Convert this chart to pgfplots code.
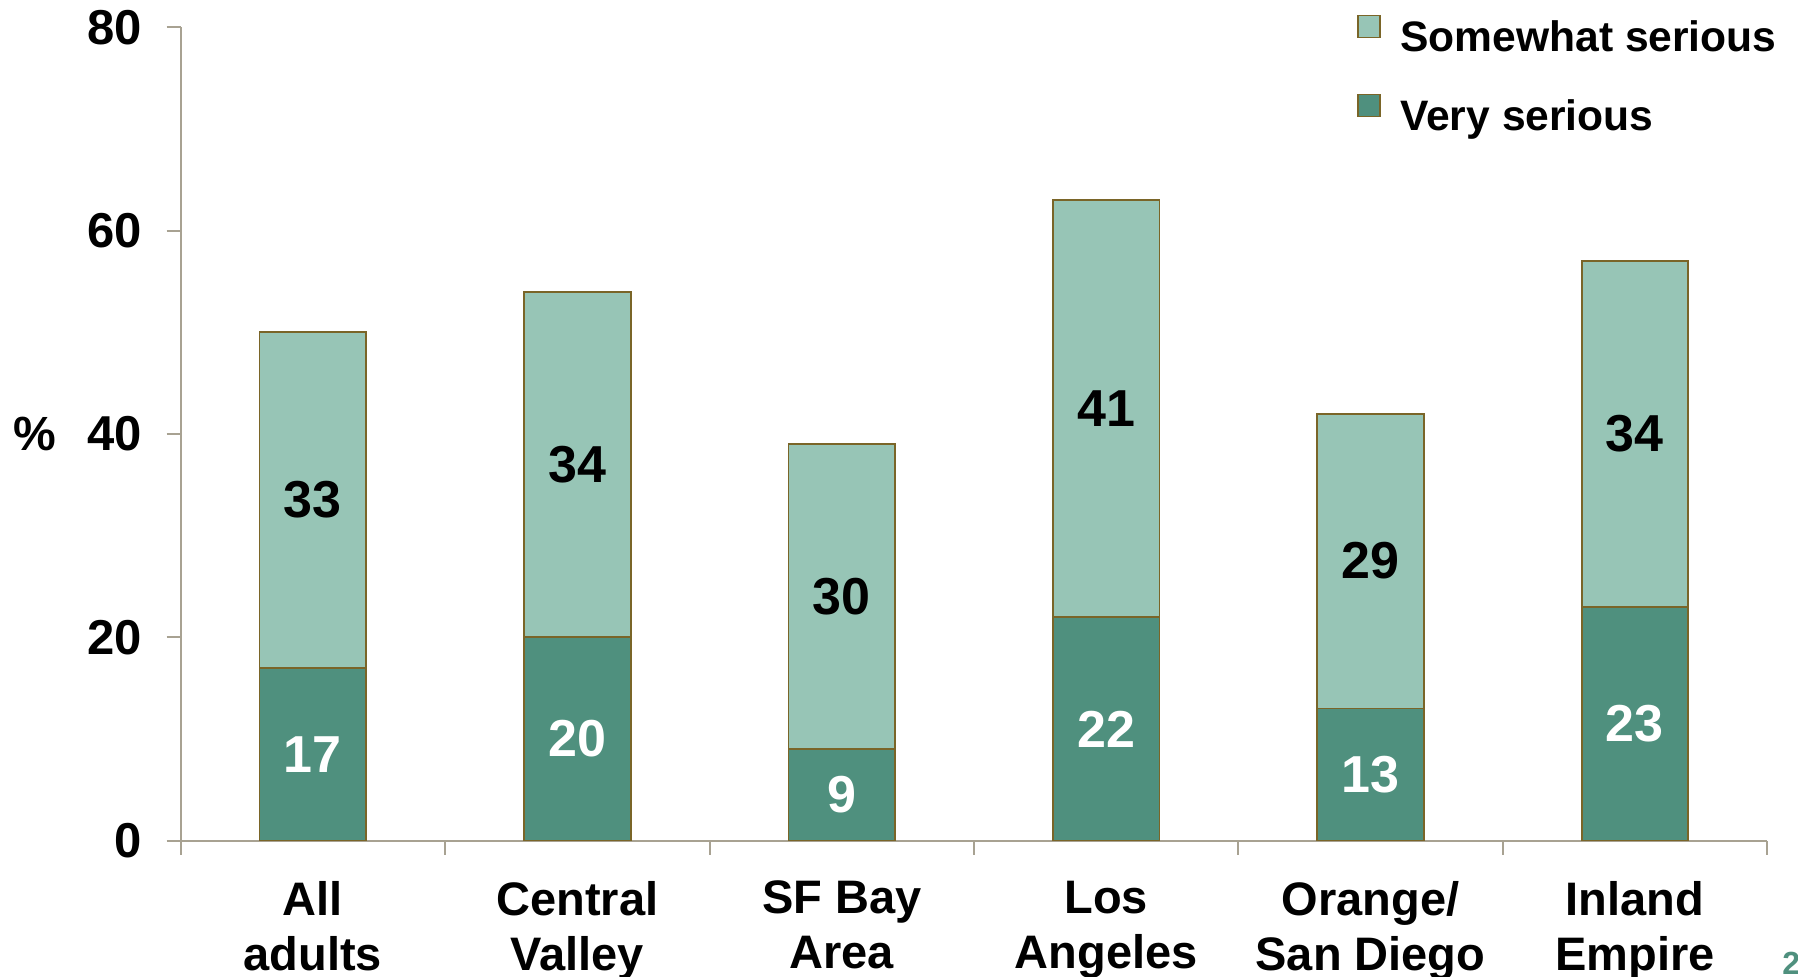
\documentclass[border=0pt]{standalone}
\usepackage{fontspec}
\setmainfont{Liberation Sans}
\usepackage{pgfplots}
\pgfplotsset{compat=1.18}
\definecolor{lightg}{HTML}{97C5B6}
\definecolor{darkg}{HTML}{4F907E}
\definecolor{edgec}{HTML}{7A6528}
\definecolor{axc}{HTML}{A8A292}
\pgfplotsset{
  mylegend/.style={legend image code/.code={\draw[##1,line width=0.9pt] (0pt,2pt) rectangle (11pt,13pt);}},
  common/.style={at={(0pt,0pt)}, anchor=south west, scale only axis, width=793.2pt, height=406.7pt,
    xmin=-0.5, xmax=5.5, ymin=0, ymax=80},
}
\begin{document}
\begin{tikzpicture}
\begin{axis}[common,
  ybar stacked, bar width=53.3pt,
  axis x line*=bottom, axis y line*=left,
  axis line style={draw=axc, line width=1pt},
  tick align=outside, major tick length=7pt,
  tick style={draw=axc, line width=1pt},
  xtick={-0.5,0.5,...,5.5}, xticklabels={},
  extra x ticks={0,1,2,3,4,5},
  extra x tick labels={{All\\adults},{Central\\Valley},{SF Bay\\Area},{Los\\Angeles},{Orange/\\San Diego},{Inland\\Empire}},
  extra x tick style={major tick length=0pt, tick style={draw=none}},
  xticklabel style={align=center, font=\fontsize{23.5}{27.5}\selectfont\bfseries, text=black, yshift=-16.6pt},
  ytick={0,20,...,80},
  yticklabel style={font=\fontsize{24.5}{28}\selectfont\bfseries, text=black, xshift=-9pt},
  /pgf/number format/assume math mode=true,
  ylabel={\%},
  ylabel style={at={(axis description cs:-0.092,0.5)}, anchor=center, rotate=-90, font=\fontsize{24}{28}\selectfont\bfseries},
  legend style={at={(0.7377,1.021)}, anchor=north west, draw=none, fill=none,
    font=\fontsize{21.3}{25}\selectfont\bfseries, row sep=16pt, column sep=9.5pt,
    nodes={inner sep=0pt, text height=15pt, text depth=5pt}},
  legend cell align=left, reverse legend,
]
\addplot[fill=darkg, draw=edgec, line width=0.9pt, mylegend] coordinates {(0,17) (1,20) (2,9) (3,22) (4,13) (5,23)};
\addlegendentry{Very serious}
\addplot[fill=lightg, draw=edgec, line width=0.9pt, mylegend] coordinates {(0,33) (1,34) (2,30) (3,41) (4,29) (5,34)};
\addlegendentry{Somewhat serious}
\end{axis}
\begin{axis}[common, hide axis, point meta=explicit symbolic, nodes near coords,
  every node near coord/.append style={anchor=center, font=\fontsize{26}{30}\selectfont\bfseries}]
\addplot[draw=none, mark=none, every node near coord/.append style={text=white}]
  coordinates {(0,8.5)[17] (1,10)[20] (2,4.5)[9] (3,11)[22] (4,6.5)[13] (5,11.5)[23]};
\addplot[draw=none, mark=none, every node near coord/.append style={text=black}]
  coordinates {(0,33.5)[33] (1,37)[34] (2,24)[30] (3,42.5)[41] (4,27.5)[29] (5,40)[34]};
\end{axis}
\node[anchor=north west, inner sep=0pt, text=darkg, font=\fontsize{16}{18}\selectfont\bfseries] at (800.6pt,-55.6pt) {2};
\pgfresetboundingbox
\path[use as bounding box] (-90.35pt,-68.15pt) rectangle (808.65pt,420.35pt);
\end{tikzpicture}
\end{document}
